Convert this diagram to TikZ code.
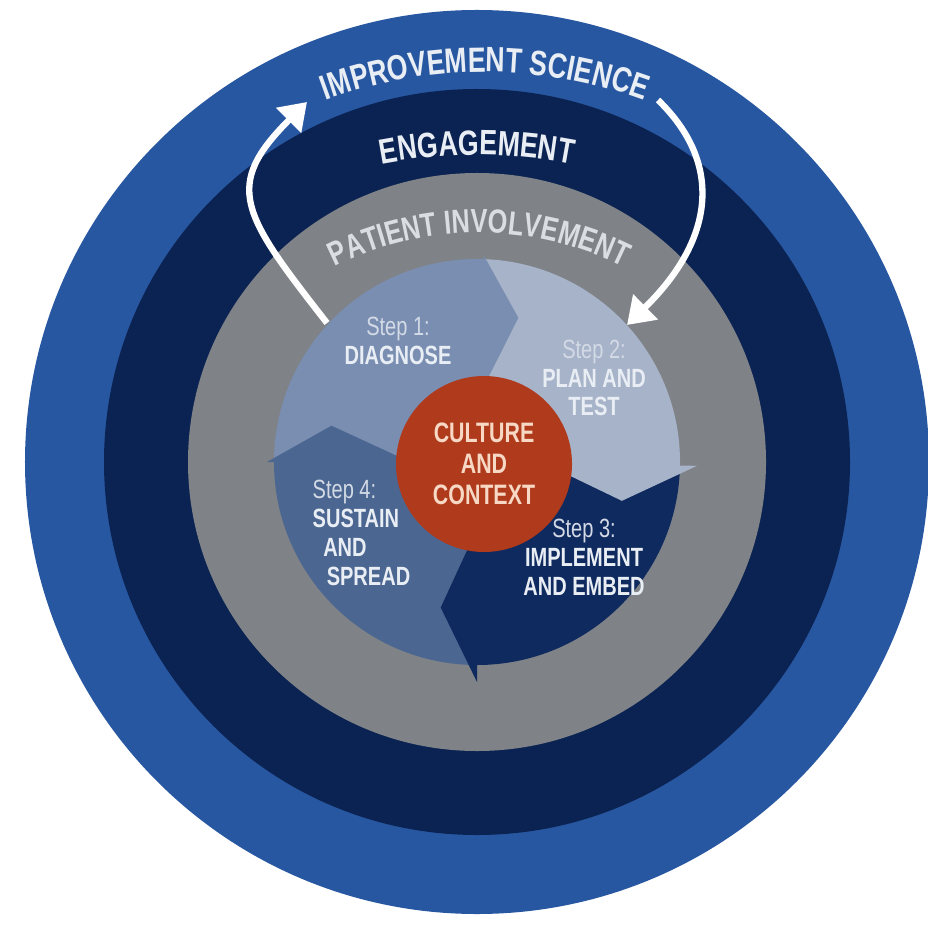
\documentclass[tikz,border=0pt]{standalone}
\usepackage{fontspec}
\newfontfamily\condfont[FakeStretch=0.76]{Liberation Sans}
\usetikzlibrary{arrows.meta,decorations.text}
\definecolor{ringblue}{HTML}{2857A1}
\definecolor{ringnavy}{HTML}{0B2352}
\definecolor{ringgray}{HTML}{7F8388}
\definecolor{diagnose}{HTML}{7A8EB2}
\definecolor{plantest}{HTML}{A7B3C9}
\definecolor{embed}{HTML}{0F2A5E}
\definecolor{spread}{HTML}{4B6690}
\definecolor{culture}{HTML}{B03A1C}
\definecolor{culturetext}{HTML}{F6D8C4}
\definecolor{paletext}{HTML}{E9EEF5}
\definecolor{graytext}{HTML}{DADDE2}
\definecolor{steplabel}{HTML}{D3DAE6}
\tikzset{
  arctext/.style={decorate, decoration={text along path, text align=center, text color=paletext,
    text={|\condfont\bfseries\fontsize{10}{12}\selectfont|#1}}},
  steptext/.style={text=paletext, align=center, inner sep=0pt, font=\condfont\fontsize{7.5}{8.2}\selectfont},
  cyclearrow/.style={draw=white, line width=1.8pt, -{Triangle[width=0.34cm,length=0.26cm]}}
}

\begin{document}
\begin{tikzpicture}
\useasboundingbox (-4.77,-4.65) rectangle (4.51,4.62);
\clip (-4.77,-4.65) rectangle (4.51,4.62);
\fill[ringblue] (0,0) circle (4.52);
\fill[ringnavy] (0,0) circle (3.73);
\fill[ringgray] (0,0) circle (2.89);
\foreach \col/\sa/\ea in {diagnose/180/88, plantest/88/-1, embed/-1/-90, spread/-90/-180}
  \fill[\col] (0,0) -- (\sa:2.03) arc[start angle=\sa, end angle=\ea, radius=2.03] -- cycle;
\foreach \col/\ea/\br in {diagnose/88/2.06, plantest/-1/2.2, embed/-90/2.2, spread/-180/2.1}
  \fill[\col] (\ea+3:0.6) -- (\ea-14:1.5) -- (\ea:\br) -- (\ea:2.03) -- (\ea+3:2.03) -- cycle;

\node[circle, fill=culture, minimum size=1.76cm, inner sep=0pt, text=culturetext, align=center,
  font=\condfont\bfseries\fontsize{8}{8.8}\selectfont] (context) at (0.07,-0.02) {CULTURE\\AND\\CONTEXT};

\node[steptext] (diag) at (-0.79,1.21) {\textcolor{steplabel}{Step 1:}\\\textbf{DIAGNOSE}};
\node[steptext] (plan) at (1.17,0.84) {\textcolor{steplabel}{Step 2:}\\\textbf{PLAN AND}\\\textbf{TEST}};
\node[steptext] (implement) at (1.07,-0.95) {\textcolor{steplabel}{Step 3:}\\\textbf{IMPLEMENT}\\\textbf{AND EMBED}};
\node[steptext, align=left, anchor=west] (sustain) at (-1.65,-0.71)
  {\textcolor{steplabel}{Step 4:}\\\textbf{SUSTAIN}\\\hspace{3pt}\textbf{AND}\\\hspace{4pt}\textbf{SPREAD}};

\path[arctext={IMPROVEMENT SCIENCE}] ([shift={(0.08,-0.71)}]125:4.61) arc[start angle=125, end angle=55, radius=4.61];
\path[arctext={ENGAGEMENT}] ([shift={(0,-1.93)}]110:5.0) arc[start angle=110, end angle=70, radius=5.0];
\path[arctext={PATIENT INVOLVEMENT}, decoration={text color=graytext, text={|\condfont\bfseries\fontsize{9.5}{12}\selectfont|PATIENT INVOLVEMENT}}]
  ([shift={(0.02,-0.94)}]135:3.23) arc[start angle=135, end angle=45, radius=3.23];

\coordinate (leftfoot) at (-1.50,1.39);
\coordinate (lefttip) at (-1.70,3.60);
\coordinate (rightfoot) at (1.81,3.62);
\coordinate (righttip) at (1.50,1.37);
\draw[cyclearrow] (leftfoot) .. controls (-2.36,2.49) and (-2.54,2.76) .. (lefttip);
\draw[cyclearrow] (rightfoot) .. controls (2.47,2.98) and (2.37,2.22) .. (righttip);
\end{tikzpicture}
\end{document}
